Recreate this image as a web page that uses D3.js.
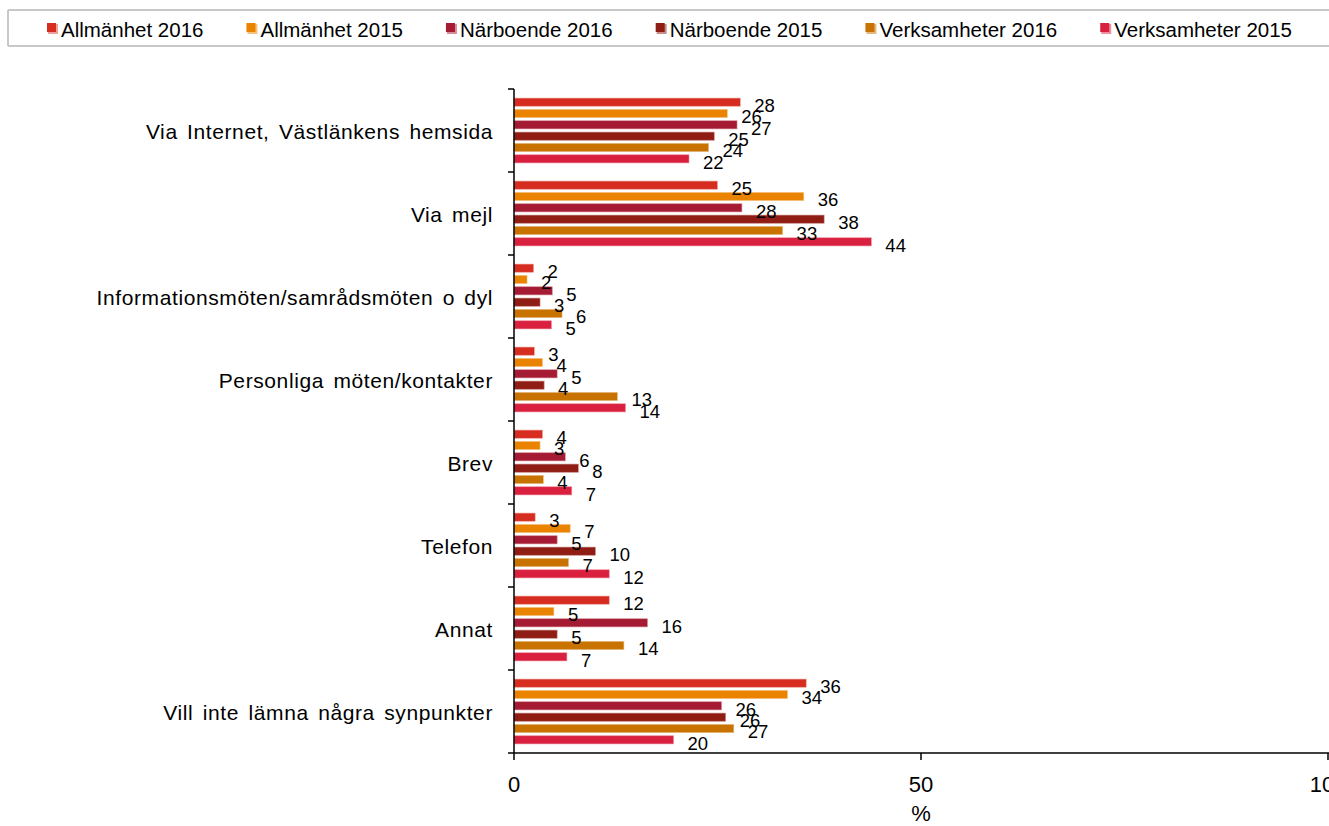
<!DOCTYPE html>
<html>
<head>
<meta charset="utf-8">
<script src="https://cdn.jsdelivr.net/npm/d3@7"></script>
<style>
  body { margin: 0; background: #fff; }
  text { font-family: "Liberation Sans", Arial, sans-serif; fill: #000; }
</style>
</head>
<body>
<div id="wrapper"></div>
<script>
// 1. Data
const categories = [
  "Via Internet, Västlänkens hemsida",
  "Via mejl",
  "Informationsmöten/samrådsmöten o dyl",
  "Personliga möten/kontakter",
  "Brev",
  "Telefon",
  "Annat",
  "Vill inte lämna några synpunkter"
]
const series = ["Allmänhet 2016", "Allmänhet 2015", "Närboende 2016", "Närboende 2015", "Verksamheter 2016", "Verksamheter 2015"]
const colors = ["#d62d20", "#e98300", "#a51b33", "#8f1d14", "#c87200", "#d9213f"]
const shadowColors = ["#f0a09a", "#f5c27f", "#d78d99", "#c78e8a", "#e3b87f", "#ec909f"]

// one array per series, same order as categories
const allmanhet2016    = [27.8, 25.0, 2.4, 2.5, 3.5, 2.6, 11.7, 35.9]
const allmanhet2015    = [26.2, 35.6, 1.6, 3.5, 3.2, 6.9, 4.9, 33.6]
const narboende2016    = [27.4, 28.0, 4.7, 5.3, 6.3, 5.3, 16.4, 25.5]
const narboende2015    = [24.6, 38.1, 3.2, 3.7, 7.9, 10.0, 5.3, 26.0]
const verksamheter2016 = [23.9, 33.0, 5.9, 12.7, 3.6, 6.7, 13.5, 27.0]
const verksamheter2015 = [21.5, 43.9, 4.6, 13.7, 7.1, 11.7, 6.5, 19.6]
const seriesValues = [allmanhet2016, allmanhet2015, narboende2016, narboende2015, verksamheter2016, verksamheter2015]

const xTicks = [0, 50, 100]
const xTitle = "%"

// 2. Dimensions
let dimensions = {
  width: 1329,
  height: 826,
  margin: { top: 89, right: 1, bottom: 73, left: 514 },
}
dimensions.boundedWidth = dimensions.width - dimensions.margin.left - dimensions.margin.right
dimensions.boundedHeight = dimensions.height - dimensions.margin.top - dimensions.margin.bottom

// 3. Canvas
const wrapper = d3.select("#wrapper")
  .append("svg")
    .attr("width", dimensions.width)
    .attr("height", dimensions.height)

// legend
const legend = wrapper.append("g")
legend.append("line")
  .attr("x1", 8).attr("x2", dimensions.width)
  .attr("y1", 10).attr("y2", 10)
  .attr("stroke", "#c8c8c8").attr("stroke-width", 2)
legend.append("line")
  .attr("x1", 8).attr("x2", dimensions.width)
  .attr("y1", 46).attr("y2", 46)
  .attr("stroke", "#c8c8c8").attr("stroke-width", 2)
legend.append("line")
  .attr("x1", 8).attr("x2", 8)
  .attr("y1", 10).attr("y2", 46)
  .attr("stroke", "#c8c8c8").attr("stroke-width", 2)

let legendX = 47
series.forEach((name, i) => {
  const item = legend.append("g").attr("transform", `translate(${legendX}, 0)`)
  item.append("rect")
    .attr("x", 1).attr("y", 24).attr("width", 10).attr("height", 10)
    .attr("fill", shadowColors[i])
  item.append("rect")
    .attr("x", 0).attr("y", 23).attr("width", 9).attr("height", 9)
    .attr("fill", colors[i])
  const t = item.append("text")
    .attr("x", 14).attr("y", 36.5)
    .style("font-size", "20.5px")
    .text(name)
  legendX += 14 + t.node().getComputedTextLength() + 43
})

const bounds = wrapper.append("g")
  .attr("transform", `translate(${dimensions.margin.left}, ${dimensions.margin.top})`)

// 4. Scales
const xScale = d3.scaleLinear()
  .domain([0, 100])
  .range([0, 814])

const yScale = d3.scaleBand()
  .domain(categories)
  .range([0, dimensions.boundedHeight])

const ySeries = d3.scaleBand()
  .domain(series)
  .range([0, yScale.bandwidth()])
  .paddingInner(0.28)
  .paddingOuter(0.8)

// 5. Draw data
const groups = bounds.selectAll(".cat")
  .data(categories)
  .join("g")
    .attr("class", "cat")
    .attr("transform", d => `translate(0, ${yScale(d)})`)

groups.each(function(cat, ci) {
  const g = d3.select(this)
  series.forEach((s, si) => {
    const v = seriesValues[si][ci]
    g.append("rect")
      .attr("x", xScale(0))
      .attr("y", ySeries(s))
      .attr("width", xScale(v) - xScale(0))
      .attr("height", ySeries.bandwidth())
      .attr("fill", colors[si])
      .attr("stroke", shadowColors[si])
      .attr("stroke-width", 0.6)
  })
})

// data labels drawn after all bars so they stay on top
groups.each(function(cat, ci) {
  const g = d3.select(this)
  series.forEach((s, si) => {
    const v = seriesValues[si][ci]
    g.append("text")
      .attr("x", xScale(v) + 14)
      .attr("y", ySeries(s) + ySeries.bandwidth() / 2 + 9.7)
      .style("font-size", "18.5px")
      .text(Math.round(v))
  })
})

// 6. Peripherals
const yAxis = bounds.append("g")
yAxis.append("line")
  .attr("x1", 0).attr("x2", 0)
  .attr("y1", 0).attr("y2", dimensions.boundedHeight)
  .attr("stroke", "#000").attr("stroke-width", 1.5)
d3.range(categories.length + 1).forEach(i => {
  const y = i * yScale.step()
  yAxis.append("line")
    .attr("x1", -6).attr("x2", 0)
    .attr("y1", y).attr("y2", y)
    .attr("stroke", "#000").attr("stroke-width", 1.5)
})
yAxis.selectAll(".cat-label")
  .data(categories)
  .join("text")
    .attr("class", "cat-label")
    .attr("x", -21)
    .attr("y", d => yScale(d) + yScale.bandwidth() / 2 + 1)
    .attr("dy", "0.35em")
    .attr("text-anchor", "end")
    .style("font-size", "21px")
    .style("letter-spacing", "0.6px")
    .style("word-spacing", "3px")
    .text(d => d)

const xAxis = bounds.append("g")
  .attr("transform", `translate(0, ${dimensions.boundedHeight})`)
xAxis.append("line")
  .attr("x1", 0).attr("x2", dimensions.width)
  .attr("y1", 0).attr("y2", 0)
  .attr("stroke", "#000").attr("stroke-width", 1.5)
xTicks.forEach(t => {
  xAxis.append("line")
    .attr("x1", xScale(t)).attr("x2", xScale(t))
    .attr("y1", 0).attr("y2", 7)
    .attr("stroke", "#000").attr("stroke-width", 1.5)
  xAxis.append("text")
    .attr("x", xScale(t))
    .attr("y", 39)
    .attr("text-anchor", "middle")
    .style("font-size", "22px")
    .text(t)
})
xAxis.append("text")
  .attr("x", xScale(50))
  .attr("y", 68)
  .attr("text-anchor", "middle")
  .style("font-size", "22px")
  .text(xTitle)
</script>
</body>
</html>
